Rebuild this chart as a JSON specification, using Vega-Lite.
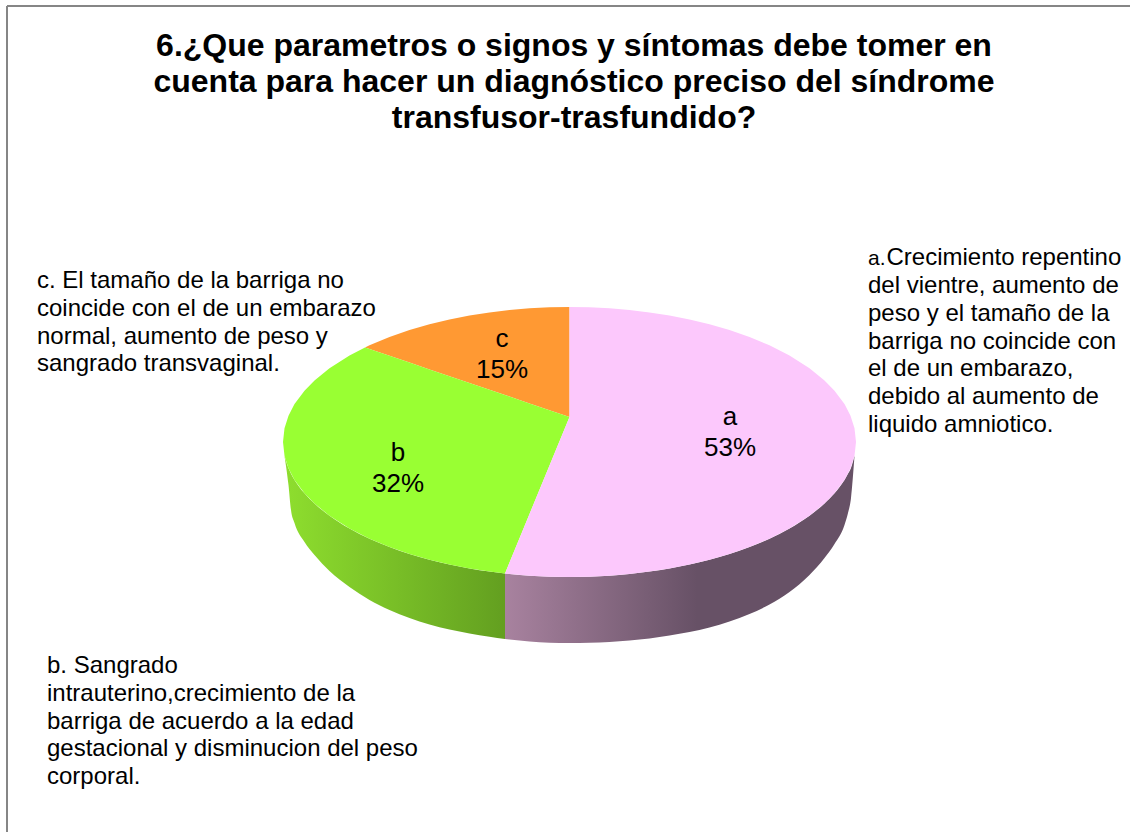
{
"$schema":"https://vega.github.io/schema/vega-lite/v6.json",
"width":1130,"height":832,"padding":0,"autosize":"none","background":"white",
"view":{"stroke":null},
"title":{"text":["6.¿Que parametros o signos y síntomas debe tomer en","cuenta para hacer un diagnóstico preciso del síndrome","transfusor-trasfundido?"],"anchor":"middle","frame":"group","offset":-135,"dx":9,"font":"Liberation Sans","fontSize":32,"fontWeight":"bold","lineHeight":36,"color":"black"},
"datasets":{
"frame":[{"x":7,"y":6,"x2":1130,"y2":6},{"x":7,"y":6,"x2":7,"y2":832}],
"sideB":[{"x":284.5,"y":455.8,"y2":456},{"x":288.5,"y":468.3,"y2":485},{"x":291,"y":473.7,"y2":510},{"x":294.5,"y":479.9,"y2":523},{"x":304.5,"y":493.3,"y2":542},{"x":314.5,"y":503.5,"y2":555},{"x":329.5,"y":515.7,"y2":571},{"x":349.5,"y":528.5,"y2":587},{"x":369.5,"y":538.7,"y2":600},{"x":389.5,"y":547,"y2":610},{"x":409.5,"y":554,"y2":618},{"x":429.5,"y":559.8,"y2":624.5},{"x":449.5,"y":564.6,"y2":629.5},{"x":469.5,"y":568.5,"y2":633.5},{"x":489.5,"y":571.6,"y2":636.8},{"x":505,"y":573.5,"y2":639}],
"sideA":[{"x":505,"y":573.5,"y2":639},{"x":509.5,"y":574,"y2":639.5},{"x":529.5,"y":575.7,"y2":641.5},{"x":549.5,"y":576.7,"y2":642.7},{"x":569.5,"y":577,"y2":643},{"x":589.5,"y":576.7,"y2":642.8},{"x":609.5,"y":575.7,"y2":642},{"x":629.5,"y":574,"y2":640.5},{"x":649.5,"y":571.6,"y2":638.5},{"x":669.5,"y":568.5,"y2":635.5},{"x":689.5,"y":564.6,"y2":632},{"x":709.5,"y":559.8,"y2":627.5},{"x":729.5,"y":554,"y2":621.5},{"x":749.5,"y":547,"y2":614},{"x":769.5,"y":538.7,"y2":604.5},{"x":789.5,"y":528.5,"y2":592},{"x":809.5,"y":515.7,"y2":575},{"x":824.5,"y":503.5,"y2":558},{"x":834.5,"y":493.3,"y2":544},{"x":844.5,"y":479.9,"y2":525},{"x":848,"y":473.7,"y2":513},{"x":851,"y":468,"y2":498},{"x":854.5,"y":455.8,"y2":456}],
"topC":[{"x":365,"y":347.5,"y2":347.5},{"x":369.5,"y":345.3,"y2":349},{"x":389.5,"y":337,"y2":355.8},{"x":409.5,"y":330,"y2":362.6},{"x":429.5,"y":324.2,"y2":369.4},{"x":449.5,"y":319.4,"y2":376.2},{"x":469.5,"y":315.5,"y2":383},{"x":489.5,"y":312.4,"y2":389.8},{"x":509.5,"y":310,"y2":396.6},{"x":529.5,"y":308.3,"y2":403.4},{"x":549.5,"y":307.3,"y2":410.2},{"x":569.5,"y":307,"y2":417}],
"topB":[{"x":283,"y":442,"y2":442},{"x":284.5,"y":428.2,"y2":455.8},{"x":288.5,"y":415.7,"y2":468.3},{"x":294.5,"y":404.1,"y2":479.9},{"x":304.5,"y":390.7,"y2":493.3},{"x":314.5,"y":380.5,"y2":503.5},{"x":329.5,"y":368.3,"y2":515.7},{"x":349.5,"y":355.5,"y2":528.5},{"x":365,"y":347.5,"y2":536.5},{"x":369.5,"y":349,"y2":538.7},{"x":389.5,"y":355.8,"y2":547},{"x":409.5,"y":362.6,"y2":554},{"x":429.5,"y":369.4,"y2":559.8},{"x":449.5,"y":376.2,"y2":564.6},{"x":469.5,"y":383,"y2":568.5},{"x":489.5,"y":389.8,"y2":571.6},{"x":505,"y":395.1,"y2":573.5},{"x":509.5,"y":396.6,"y2":562.6},{"x":529.5,"y":403.4,"y2":514},{"x":549.5,"y":410.2,"y2":465.5},{"x":569.5,"y":417,"y2":417}],
"topA":[{"x":505,"y":573.5,"y2":573.5},{"x":509.5,"y":562.6,"y2":574},{"x":529.5,"y":514,"y2":575.7},{"x":549.5,"y":465.5,"y2":576.7},{"x":569.5,"y":417,"y2":577},{"x":569.5,"y":307,"y2":577},{"x":589.5,"y":307.3,"y2":576.7},{"x":609.5,"y":308.3,"y2":575.7},{"x":629.5,"y":310,"y2":574},{"x":649.5,"y":312.4,"y2":571.6},{"x":669.5,"y":315.5,"y2":568.5},{"x":689.5,"y":319.4,"y2":564.6},{"x":709.5,"y":324.2,"y2":559.8},{"x":729.5,"y":330,"y2":554},{"x":749.5,"y":337,"y2":547},{"x":769.5,"y":345.3,"y2":538.7},{"x":789.5,"y":355.5,"y2":528.5},{"x":809.5,"y":368.3,"y2":515.7},{"x":824.5,"y":380.5,"y2":503.5},{"x":834.5,"y":390.7,"y2":493.3},{"x":844.5,"y":404.1,"y2":479.9},{"x":850.5,"y":415.7,"y2":468.3},{"x":854.5,"y":428.2,"y2":455.8},{"x":856,"y":442,"y2":442}],
"slices":[{"label":"a\n53%","x":730,"y":425},{"label":"b\n32%","x":398,"y":461},{"label":"c\n15%","x":502,"y":347}],
"marker":[{"label":"a.","x":868,"y":265}],
"notes":[{"label":"Crecimiento repentino","x":886.5,"y":265},{"label":"del vientre, aumento de\npeso y el tamaño de la\nbarriga no coincide con\nel de un embarazo,\ndebido al aumento de\nliquido amniotico.","x":868,"y":293},{"label":"c. El tamaño de la barriga no\ncoincide con el de un embarazo\nnormal, aumento de peso y\nsangrado transvaginal.","x":37,"y":288},{"label":"b. Sangrado\nintrauterino,crecimiento de la\nbarriga de acuerdo a la edad\ngestacional y disminucion del peso\ncorporal.","x":47,"y":673}]
},
"encoding":{
"x":{"field":"x","type":"quantitative","scale":{"domain":[0,1130],"nice":false,"zero":false},"axis":null},
"y":{"field":"y","type":"quantitative","scale":{"domain":[832,0],"nice":false,"zero":false},"axis":null}
},
"layer":[
{"data":{"name":"frame"},"mark":{"type":"rule","stroke":"#868686","strokeWidth":2},"encoding":{"x2":{"field":"x2"},"y2":{"field":"y2"}}},
{"data":{"name":"sideB"},"mark":{"type":"area","interpolate":"monotone","fill":{"gradient":"linear","x1":0,"y1":0,"x2":1,"y2":0,"stops":[{"offset":0,"color":"#8ede2e"},{"offset":1,"color":"#639f20"}]}},"encoding":{"y2":{"field":"y2"}}},
{"data":{"name":"sideA"},"mark":{"type":"area","interpolate":"monotone","fill":{"gradient":"linear","x1":0,"y1":0,"x2":1,"y2":0,"stops":[{"offset":0,"color":"#a8829f"},{"offset":0.55,"color":"#675166"},{"offset":1,"color":"#675166"}]}},"encoding":{"y2":{"field":"y2"}}},
{"data":{"name":"topC"},"mark":{"type":"area","fill":"#ff9933"},"encoding":{"y2":{"field":"y2"}}},
{"data":{"name":"topB"},"mark":{"type":"area","fill":"#99ff33"},"encoding":{"y2":{"field":"y2"}}},
{"data":{"name":"topA"},"mark":{"type":"area","fill":"#fcc8fc"},"encoding":{"y2":{"field":"y2"}}},
{"data":{"name":"slices"},"mark":{"type":"text","align":"center","baseline":"alphabetic","font":"Liberation Sans","fontSize":26,"lineBreak":"\n","lineHeight":31,"color":"black"},"encoding":{"text":{"field":"label"}}},
{"data":{"name":"marker"},"mark":{"type":"text","align":"left","baseline":"alphabetic","font":"Liberation Sans","fontSize":21,"color":"black"},"encoding":{"text":{"field":"label"}}},
{"data":{"name":"notes"},"mark":{"type":"text","align":"left","baseline":"alphabetic","font":"Liberation Sans","fontSize":24,"lineBreak":"\n","lineHeight":27.8,"color":"black"},"encoding":{"text":{"field":"label"}}}
]
}
